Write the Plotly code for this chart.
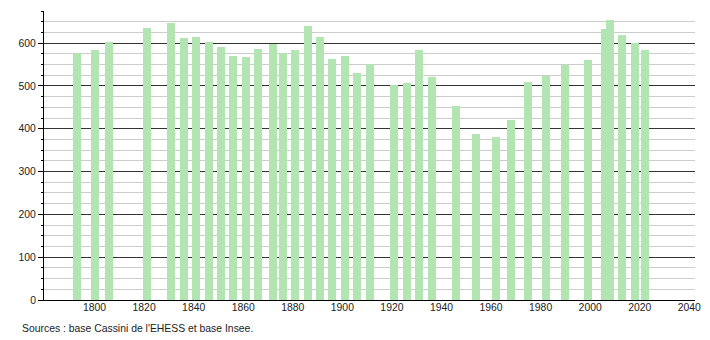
import plotly.graph_objects as go

years = [1793, 1800, 1806, 1821, 1831, 1836, 1841, 1846, 1851, 1856, 1861, 1866,
         1872, 1876, 1881, 1886, 1891, 1896, 1901, 1906, 1911, 1921, 1926, 1931,
         1936, 1946, 1954, 1962, 1968, 1975, 1982, 1990, 1999, 2006, 2008, 2013,
         2018, 2022]
population = [576, 583, 603, 636, 646, 611, 614, 602, 590, 569, 567, 586,
              597, 576, 583, 639, 614, 562, 569, 530, 551, 502, 506, 583,
              520, 453, 387, 380, 420, 509, 523, 548, 560, 634, 655, 620,
              600, 583]
x_ticks = [1800, 1820, 1840, 1860, 1880, 1900, 1920, 1940, 1960, 1980, 2000, 2020, 2040]
y_ticks = [0, 100, 200, 300, 400, 500, 600]
source_text = "Sources : base Cassini de l'EHESS et base Insee."

FONT = "Liberation Sans, Arial, sans-serif"
FS = 10.4

fig = go.Figure()
fig.add_trace(go.Bar(
    x=years, y=population, width=3.2,
    marker=dict(color="#b2e5b2", line=dict(width=0)),
    hoverinfo="x+y",
))

fig.update_layout(
    width=710, height=340,
    margin=dict(l=44, r=9, t=11, b=40),
    plot_bgcolor="white", paper_bgcolor="white",
    showlegend=False,
    bargap=0,
    font=dict(family=FONT, size=FS, color="#222222"),
    xaxis=dict(
        range=[1779.6, 2042.3],
        tickmode="array", tickvals=x_ticks,
        ticks="", showgrid=False, zeroline=False,
        showline=True, linecolor="#000000", linewidth=1,
        ticklabelstandoff=-2,
        tickfont=dict(family=FONT, size=FS, color="#222222"),
    ),
    yaxis=dict(
        range=[0, 675],
        tickmode="array", tickvals=y_ticks,
        ticks="outside", ticklen=5, tickcolor="#000000", tickwidth=1,
        showgrid=True, gridcolor="#333333", gridwidth=1,
        zeroline=False,
        showline=True, linecolor="#000000", linewidth=1,
        tickfont=dict(family=FONT, size=FS, color="#222222"),
        minor=dict(dtick=25, tick0=0, ticks="outside", ticklen=2,
                   tickcolor="#000000", showgrid=True,
                   gridcolor="#cccccc", gridwidth=1),
    ),
    annotations=[dict(
        text=source_text, xref="paper", yref="paper",
        x=-0.037, y=-0.1, xanchor="left", yanchor="middle",
        showarrow=False, font=dict(family=FONT, size=FS, color="#222222"),
    )],
)

fig.write_html("out.html")
